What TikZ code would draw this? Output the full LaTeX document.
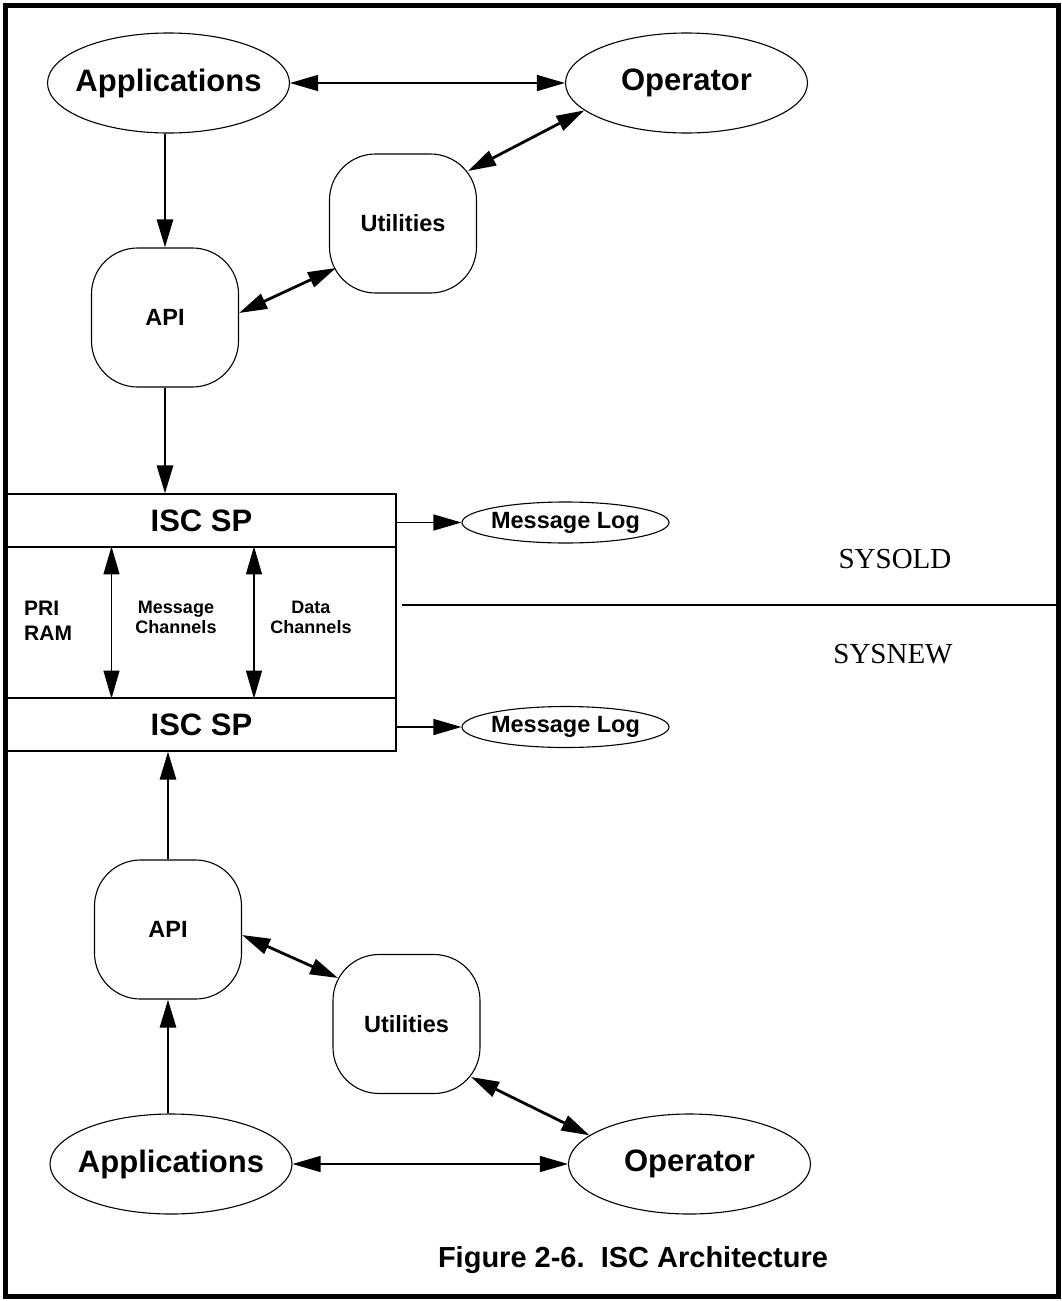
\documentclass[tikz,border=0pt]{standalone}
\usepackage{fontspec}
\setmainfont{Liberation Sans}
\newfontfamily\serifx{Liberation Serif}
\usetikzlibrary{arrows.meta,shapes.geometric}
\begin{document}
\begin{tikzpicture}[x=1pt,y=-1pt,
  thinline/.style={line width=1.3pt},
  thickline/.style={line width=2.8pt},
  tip/.style={-{Triangle[length=28pt,width=16pt]}},
  bitip/.style={{Triangle[length=28pt,width=16pt]}-{Triangle[length=28pt,width=16pt]}},
  bigoval/.style={draw, line width=1.1pt, ellipse, minimum width=242pt, minimum height=100pt, inner xsep=-40pt, inner ysep=0pt, font=\bfseries\fontsize{31}{36}\selectfont},
  logoval/.style={draw, line width=1.1pt, ellipse, minimum width=207pt, minimum height=41pt, inner xsep=-30pt, inner ysep=0pt, font=\bfseries\fontsize{23.5}{28}\selectfont},
  softbox/.style={draw, line width=1.1pt, rectangle, rounded corners=46pt, minimum width=147pt, minimum height=139pt, inner sep=0pt, font=\bfseries\fontsize{23.5}{28}\selectfont},
  spbox/.style={draw, line width=1.1pt, rectangle, minimum width=389pt, minimum height=53pt, inner sep=0pt, font=\bfseries\fontsize{31}{36}\selectfont},
  ramlabel/.style={inner sep=0pt, align=left, font=\bfseries\fontsize{21}{25}\selectfont},
  chanlabel/.style={inner sep=0pt, align=center, font=\bfseries\fontsize{18}{20}\selectfont},
  syslabel/.style={inner sep=0pt, font=\serifx\fontsize{29}{34}\selectfont},
  captionlabel/.style={inner sep=0pt, font=\bfseries\fontsize{29}{34}\selectfont}
]
\useasboundingbox (0,0) rectangle (1061,1301);
\draw[line width=5pt] (5.5,5) rectangle (1058.5,1296.5);

% upper system
\node[bigoval] (appT) at (168.5,83) {Applications};
\node[bigoval] (opT) at (686.5,83) {Operator};
\node[softbox] (utilT) at (403,223.5) {Utilities};
\node[softbox] (apiT) at (165,317.5) {API};
\node[spbox] (iscT) at (201.5,520.5) {ISC SP};
\node[draw, line width=1.1pt, rectangle, minimum width=389pt, minimum height=151pt, inner sep=0pt] (ram) at (201.5,622.5) {};
\node[spbox] (iscB) at (201.5,724.5) {ISC SP};
\node[logoval] (logT) at (565.5,522.5) {Message Log};
\node[logoval] (logB) at (565.5,727) {Message Log};
\node[ramlabel, anchor=west] (pri) at (24,621) {PRI\\RAM};
\node[chanlabel] (mch) at (176,617) {Message\\Channels};
\node[chanlabel] (dch) at (311,617) {Data\\Channels};
\node[syslabel] (old) at (895,559) {SYSOLD};
\node[syslabel] (new) at (893,654) {SYSNEW};
\coordinate (divL) at (402,605);
\coordinate (divR) at (1056,605);

% lower system
\node[softbox] (apiB) at (168,929.5) {API};
\node[softbox] (utilB) at (406.5,1024) {Utilities};
\node[bigoval] (appB) at (171,1164) {Applications};
\node[bigoval] (opB) at (689.5,1164) {Operator};
\node[captionlabel] (cap) at (633,1260) {Figure 2-6.\ \ ISC Architecture};

% connectors upper
\draw[thinline,bitip] (appT.east) -- (opT.west);
\draw[thickline,tip] (apiT.north |- appT.south) -- (apiT.north);
\draw[thickline,bitip] ([yshift=4.5pt]apiT.east) -- ([shift={(-67,44.5)}]utilT.center);
\draw[thickline,bitip] ([shift={(65,-52.5)}]utilT.center) -- (opT.195);
\draw[thickline,tip] (apiT.south) -- (apiT.south |- iscT.north);
\draw[thinline,tip] (iscT.east |- logT.west) -- (logT.west);
\draw[thinline,bitip] ([xshift=-90pt]ram.north) -- ([xshift=-90pt]ram.south);
\draw[thinline,bitip] ([xshift=52.5pt]ram.north) -- ([xshift=52.5pt]ram.south);
\draw[thinline] (divL) -- (divR);
\draw[thinline,tip] (iscB.east |- logB.west) -- (logB.west);

% connectors lower
\draw[thickline,tip] (apiB.north) -- (apiB.north |- iscB.south);
\draw[thickline,tip] (apiB.south |- appB.north) -- (apiB.south);
\draw[thickline,bitip] ([yshift=-5.5pt]apiB.east) -- ([shift={(-68.5,-46)}]utilB.center);
\draw[thickline,bitip] ([shift={(64.5,53)}]utilB.center) -- (opB.164);
\draw[thinline,bitip] (appB.east) -- (opB.west);
\end{tikzpicture}
\end{document}
